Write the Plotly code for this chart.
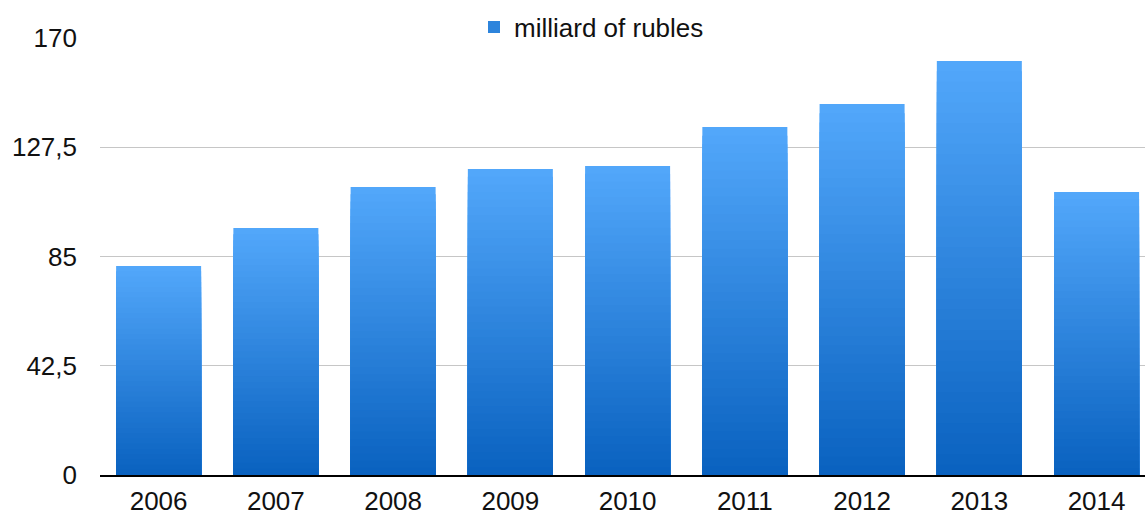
import plotly.graph_objects as go

years = ["2006", "2007", "2008", "2009", "2010", "2011", "2012", "2013", "2014"]
values = [81.3, 96.1, 112.0, 119.0, 120.2, 135.4, 144.3, 161.1, 110.1]
tick_vals = [0, 42.5, 85, 127.5, 170]
tick_text = ["0", "42,5", "85", "127,5", "170"]
series_name = "milliard of rubles"

top_rgb = (0x52, 0xA7, 0xFA)
bot_rgb = (0x0A, 0x62, 0xC0)
N = 40

W, H = 1145, 517

fig = go.Figure()
for k in range(N):
    frac = 1 - k / N  # fraction of bar height this layer covers
    t = k / (N - 1)
    c = tuple(round(top_rgb[i] + (bot_rgb[i] - top_rgb[i]) * t) for i in range(3))
    fig.add_trace(go.Bar(
        x=years,
        y=[v * frac for v in values],
        marker=dict(color="rgb(%d,%d,%d)" % c, line=dict(width=0)),
        width=0.725,
        name=series_name,
        showlegend=(k == N // 2),
        hoverinfo="skip" if k else "y",
    ))

fig.update_layout(
    width=W, height=H,
    margin=dict(l=100, r=0, t=38, b=42, autoexpand=False),
    barmode="overlay",
    plot_bgcolor="white", paper_bgcolor="white",
    font=dict(family="Liberation Sans, Arial, Helvetica, sans-serif", size=26, color="#111111"),
    legend=dict(orientation="h", x=474 / W, xref="container", xanchor="left",
                y=1 - 27 / H, yref="container", yanchor="middle",
                font=dict(size=26), bgcolor="rgba(0,0,0,0)",
                itemclick=False),
    showlegend=True,
)
fig.update_xaxes(
    type="category", range=[-0.5, 8.413],
    showline=True, linecolor="black", linewidth=2,
    showgrid=False, ticks="", ticklabelstandoff=2,
)
fig.update_yaxes(
    range=[0, 170], tickvals=tick_vals, ticktext=tick_text,
    showgrid=True, gridcolor="#c6c6c6", gridwidth=1,
    zeroline=False, showline=False, ticks="", ticklabelstandoff=22,
)

fig.write_html("out.html")
